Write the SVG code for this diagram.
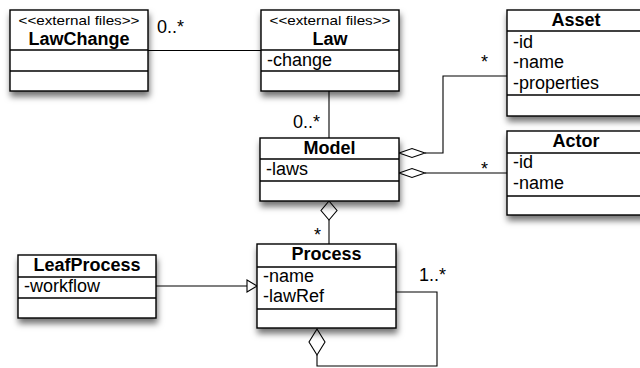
<svg xmlns="http://www.w3.org/2000/svg" width="640" height="368" viewBox="0 0 640 368">
<defs>
<filter id="sh" x="-20%" y="-20%" width="150%" height="160%">
<feDropShadow dx="1" dy="5" stdDeviation="3" flood-color="#000" flood-opacity="0.55"/>
</filter>
</defs>
<style>
.box{fill:#fff;stroke:#000;stroke-width:1.4}
.sep{stroke:#000;stroke-width:1.4;fill:none}
.t{font-family:"Liberation Sans",Arial,Helvetica,sans-serif;font-size:18px;fill:#000}
.b{font-weight:bold;text-anchor:middle}
.st{font-family:"Liberation Sans",Arial,Helvetica,sans-serif;font-size:13px;fill:#000;text-anchor:middle}
.c{stroke:#000;stroke-width:1.1;fill:none}
.d{stroke:#000;stroke-width:1.1;fill:#fff}
</style>
<rect width="640" height="368" fill="#fff"/>
<g id="connectors">
<line class="c" x1="148" y1="50.5" x2="261" y2="50.5"/>
<line class="c" x1="329" y1="91" x2="329" y2="138"/>
<polyline class="c" points="425,153 443,153 443,76 507,76"/>
<polygon class="d" points="399,153 412,148.5 425,153 412,157.5"/>
<line class="c" x1="425" y1="173" x2="507" y2="173"/>
<polygon class="d" points="399,173 412,168.5 425,173 412,177.5"/>
<line class="c" x1="329" y1="220" x2="329" y2="244"/>
<polygon class="d" points="329,201 337,210.5 329,220 321,210.5"/>
<line class="c" x1="156" y1="286" x2="247" y2="286"/>
<polygon class="d" points="247,280 257,286 247,292"/>
<polyline class="c" points="396,292 437,292 437,366 317,366 317,355"/>
<polygon class="d" points="317,329 325,342 317,355 309,342"/>
<text class="t" x="157" y="33">0..*</text>
<text class="t" x="293" y="128">0..*</text>
<text class="t" x="481" y="68">*</text>
<text class="t" x="481" y="175">*</text>
<text class="t" x="314" y="241">*</text>
<text class="t" x="419" y="281">1..*</text>
</g>
<g id="LawChange">
<rect class="box" x="10" y="10" width="138" height="81" filter="url(#sh)"/>
<line class="sep" x1="10" y1="50" x2="148" y2="50"/>
<line class="sep" x1="10" y1="71" x2="148" y2="71"/>
<text class="st" x="79" y="25" textLength="121" lengthAdjust="spacingAndGlyphs">&lt;&lt;external files&gt;&gt;</text>
<text class="t b" x="79" y="45">LawChange</text>
</g>
<g id="Law">
<rect class="box" x="261" y="10" width="138" height="81" filter="url(#sh)"/>
<line class="sep" x1="261" y1="50" x2="399" y2="50"/>
<line class="sep" x1="261" y1="71" x2="399" y2="71"/>
<text class="st" x="330" y="25" textLength="121" lengthAdjust="spacingAndGlyphs">&lt;&lt;external files&gt;&gt;</text>
<text class="t b" x="330" y="45">Law</text>
<text class="t" x="267" y="66">-change</text>
</g>
<g id="Asset">
<rect class="box" x="507" y="10" width="138" height="106" filter="url(#sh)"/>
<line class="sep" x1="507" y1="31" x2="645" y2="31"/>
<line class="sep" x1="507" y1="95" x2="645" y2="95"/>
<text class="t b" x="576" y="26">Asset</text>
<text class="t" x="513" y="48">-id</text>
<text class="t" x="513" y="68">-name</text>
<text class="t" x="513" y="89">-properties</text>
</g>
<g id="Model">
<rect class="box" x="260" y="138" width="139" height="63" filter="url(#sh)"/>
<line class="sep" x1="260" y1="159" x2="399" y2="159"/>
<line class="sep" x1="260" y1="181" x2="399" y2="181"/>
<text class="t b" x="329.5" y="154">Model</text>
<text class="t" x="266" y="175">-laws</text>
</g>
<g id="Actor">
<rect class="box" x="507" y="131" width="138" height="84" filter="url(#sh)"/>
<line class="sep" x1="507" y1="153" x2="645" y2="153"/>
<line class="sep" x1="507" y1="196" x2="645" y2="196"/>
<text class="t b" x="576" y="147">Actor</text>
<text class="t" x="513" y="168">-id</text>
<text class="t" x="513" y="189">-name</text>
</g>
<g id="LeafProcess">
<rect class="box" x="18" y="255" width="138" height="63" filter="url(#sh)"/>
<line class="sep" x1="18" y1="277" x2="156" y2="277"/>
<line class="sep" x1="18" y1="298" x2="156" y2="298"/>
<text class="t b" x="87" y="271">LeafProcess</text>
<text class="t" x="24" y="292">-workflow</text>
</g>
<g id="Process">
<rect class="box" x="257" y="244" width="139" height="84" filter="url(#sh)"/>
<line class="sep" x1="257" y1="267" x2="396" y2="267"/>
<line class="sep" x1="257" y1="309" x2="396" y2="309"/>
<text class="t b" x="326.5" y="260">Process</text>
<text class="t" x="263" y="282">-name</text>
<text class="t" x="263" y="302">-lawRef</text>
</g>
</svg>
